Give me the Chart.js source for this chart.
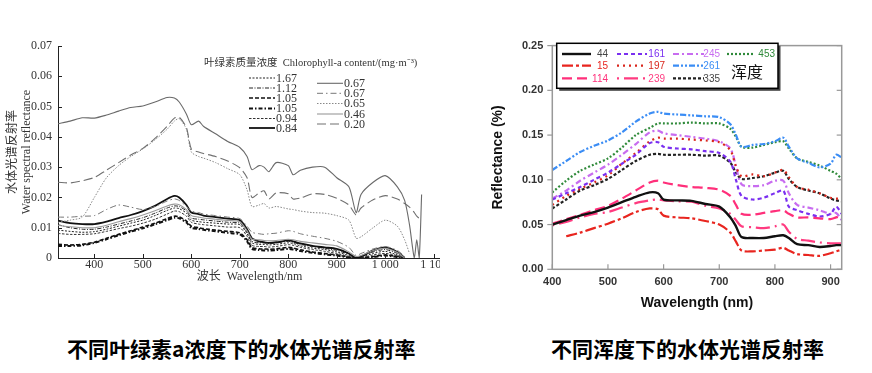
<!DOCTYPE html>
<html><head><meta charset="utf-8">
<script src="https://cdn.jsdelivr.net/npm/chart.js@4/dist/chart.umd.min.js"></script>
<style>
html,body{margin:0;padding:0;background:#fff;width:872px;height:373px;overflow:hidden;}
#lw{position:absolute;left:0;top:30px;width:440px;height:265px;overflow:hidden;}
#lc{position:absolute;left:0;top:0;}
#rc{position:absolute;left:480px;top:30px;}
.cap{position:absolute;top:334px;font-family:"Noto Sans CJK SC",sans-serif;font-weight:700;font-size:21px;line-height:28px;color:#000;white-space:nowrap;}
</style></head>
<body>
<div id="lw"><canvas id="lc" width="480" height="265"></canvas></div>
<canvas id="rc" width="392" height="290"></canvas>
<div class="cap" style="left:67px">不同叶绿素a浓度下的水体光谱反射率</div>
<div class="cap" style="left:551px">不同浑度下的水体光谱反射率</div>
<script>
// ---------------- LEFT CHART DATA ----------------
const leftWavelengths = [325,350,375,400,425,450,475,500,525,550,565,575,590,600,615,625,650,675,700,715,725,740,750,760,775,800,810,825,850,875,900,925,940,950,975,1000,1025,1040,1050,1060,1065,1070,1075];
const chl_167 = [0.0092,0.0088,0.0085,0.0087,0.0095,0.0105,0.0115,0.0125,0.0140,0.0157,0.0165,0.0163,0.0148,0.0125,0.0120,0.0118,0.0115,0.0112,0.0110,0.0080,0.0050,0.0045,0.0045,0.0043,0.0045,0.0050,0.0048,0.0040,0.0033,0.0028,0.0020,0.0008,0.0000,0.0002,0.0015,0.0022,0.0010,0.0000,null,null,null,null,null];
const chl_112 = [0.0110,0.0100,0.0095,0.0095,0.0102,0.0112,0.0122,0.0133,0.0148,0.0165,0.0172,0.0170,0.0155,0.0132,0.0128,0.0126,0.0122,0.0118,0.0115,0.0085,0.0055,0.0050,0.0050,0.0048,0.0050,0.0055,0.0052,0.0045,0.0038,0.0032,0.0025,0.0012,0.0000,0.0004,0.0020,0.0028,0.0015,0.0000,null,null,null,null,null];
const chl_105a = [0.0045,0.0043,0.0045,0.0052,0.0065,0.0078,0.0090,0.0102,0.0115,0.0130,0.0138,0.0136,0.0122,0.0105,0.0100,0.0097,0.0092,0.0088,0.0083,0.0060,0.0035,0.0030,0.0030,0.0029,0.0030,0.0035,0.0033,0.0027,0.0020,0.0015,0.0010,0.0003,0.0000,0.0000,0.0005,0.0010,0.0005,0.0000,null,null,null,null,null];
const chl_105b = [0.0040,0.0040,0.0042,0.0050,0.0062,0.0075,0.0087,0.0098,0.0111,0.0125,0.0133,0.0131,0.0117,0.0100,0.0096,0.0093,0.0088,0.0083,0.0078,0.0055,0.0030,0.0026,0.0025,0.0025,0.0026,0.0030,0.0028,0.0023,0.0017,0.0012,0.0008,0.0002,0.0000,0.0000,0.0003,0.0008,0.0003,0.0000,null,null,null,null,null];
const chl_094 = [0.0081,0.0078,0.0078,0.0080,0.0088,0.0097,0.0105,0.0115,0.0128,0.0145,0.0155,0.0153,0.0138,0.0118,0.0112,0.0110,0.0106,0.0102,0.0100,0.0072,0.0042,0.0038,0.0038,0.0036,0.0038,0.0044,0.0042,0.0035,0.0028,0.0022,0.0015,0.0005,0.0000,0.0000,0.0010,0.0015,0.0008,0.0000,null,null,null,null,null];
const chl_084 = [0.0123,0.0115,0.0112,0.0112,0.0120,0.0132,0.0142,0.0155,0.0172,0.0195,0.0205,0.0200,0.0175,0.0150,0.0145,0.0140,0.0135,0.0130,0.0125,0.0095,0.0065,0.0055,0.0052,0.0050,0.0052,0.0058,0.0055,0.0048,0.0040,0.0035,0.0030,0.0015,0.0000,0.0005,0.0025,0.0035,0.0020,0.0000,null,null,null,null,null];
const chl_067a = [0.0443,0.0452,0.0463,0.0462,0.0472,0.0485,0.0497,0.0502,0.0515,0.0530,0.0528,0.0515,0.0475,0.0440,0.0452,0.0435,0.0410,0.0385,0.0365,0.0335,0.0292,0.0305,0.0300,0.0285,0.0315,0.0305,0.0275,0.0290,0.0300,0.0300,0.0265,0.0235,0.0150,0.0210,0.0250,0.0272,0.0235,0.0190,0.0110,0.0000,0.0060,0.0000,0.0210];
const chl_067b = [0.0135,0.0135,0.0138,0.0140,0.0160,0.0175,0.0168,0.0160,0.0170,0.0188,0.0195,0.0190,0.0170,0.0155,0.0150,0.0145,0.0140,0.0135,0.0130,0.0105,0.0085,0.0080,0.0078,0.0080,0.0082,0.0090,0.0088,0.0080,0.0072,0.0065,0.0055,0.0035,0.0008,0.0015,0.0030,0.0038,0.0025,0.0005,null,null,null,null,null];
const chl_065 = [0.0118,0.0125,0.0135,0.0200,0.0265,0.0305,0.0335,0.0360,0.0390,0.0425,0.0452,0.0460,0.0425,0.0350,0.0335,0.0330,0.0315,0.0295,0.0275,0.0225,0.0170,0.0175,0.0180,0.0165,0.0170,0.0162,0.0160,0.0155,0.0150,0.0148,0.0140,0.0125,0.0065,0.0070,0.0100,0.0125,0.0105,0.0060,0.0015,null,null,null,null];
const chl_046 = [0.0108,0.0103,0.0100,0.0100,0.0108,0.0120,0.0130,0.0142,0.0156,0.0172,0.0178,0.0176,0.0160,0.0140,0.0135,0.0132,0.0128,0.0124,0.0120,0.0090,0.0062,0.0060,0.0058,0.0057,0.0058,0.0062,0.0060,0.0055,0.0050,0.0045,0.0040,0.0020,0.0005,0.0008,0.0025,0.0032,0.0018,0.0000,null,null,null,null,null];
const chl_020 = [0.0250,0.0248,0.0255,0.0266,0.0290,0.0315,0.0340,0.0362,0.0395,0.0435,0.0462,0.0465,0.0430,0.0360,0.0350,0.0345,0.0335,0.0320,0.0298,0.0265,0.0200,0.0215,0.0222,0.0195,0.0215,0.0212,0.0195,0.0198,0.0212,0.0210,0.0197,0.0175,0.0142,0.0165,0.0192,0.0206,0.0195,0.0180,0.0168,0.0150,0.0138,0.0132,0.0136];
const leftSeries = [chl_167, chl_112, chl_105a, chl_105b, chl_094, chl_084, chl_067a, chl_067b, chl_065, chl_046, chl_020];
const leftLabels = ['1.67','1.12','1.05','1.05','0.94','0.84','0.67','0.67','0.65','0.46','0.20'];
const leftYTicks = [0,0.01,0.02,0.03,0.04,0.05,0.06,0.07];
const leftXTicks = [400,500,600,700,800,900,1000,1100];

// ---------------- RIGHT CHART DATA ----------------
const rightWavelengths = [400,425,450,475,500,525,550,575,590,600,625,650,675,700,720,730,740,760,780,800,815,825,840,860,880,900,910,920];
const turb_44  = [0.050,0.055,0.060,0.064,0.069,0.075,0.081,0.086,0.085,0.078,0.077,0.0765,0.073,0.070,0.058,0.048,0.036,0.035,0.035,0.037,0.038,0.035,0.028,0.027,0.025,0.026,0.027,0.027];
const turb_15  = [null,0.037,0.041,0.046,0.051,0.057,0.064,0.068,0.067,0.060,0.058,0.057,0.054,0.050,0.041,0.031,0.021,0.020,0.021,0.022,0.024,0.021,0.017,0.016,0.015,0.018,0.020,0.022];
const turb_114 = [0.051,0.056,0.061,0.066,0.071,0.079,0.088,0.097,0.099,0.097,0.094,0.092,0.091,0.089,0.082,0.072,0.062,0.061,0.063,0.065,0.066,0.062,0.058,0.058,0.057,0.056,0.058,0.060];
const turb_161 = [0.078,0.085,0.092,0.100,0.108,0.118,0.128,0.141,0.142,0.137,0.135,0.134,0.132,0.130,0.120,0.100,0.082,0.078,0.080,0.085,0.088,0.070,0.066,0.062,0.059,0.062,0.070,0.062];
const turb_197 = [0.072,0.082,0.090,0.097,0.105,0.118,0.130,0.143,0.147,0.146,0.146,0.145,0.144,0.142,0.133,0.115,0.104,0.106,0.104,0.108,0.111,0.103,0.092,0.089,0.085,0.080,0.079,0.079];
const turb_239 = [0.049,0.053,0.058,0.062,0.064,0.069,0.074,0.077,0.078,0.077,0.076,0.0755,0.071,0.068,0.062,0.055,0.048,0.047,0.046,0.048,0.050,0.042,0.034,0.032,0.030,0.029,0.029,0.029];
const turb_245 = [0.079,0.088,0.099,0.108,0.117,0.128,0.140,0.153,0.155,0.152,0.150,0.148,0.146,0.143,0.135,0.115,0.095,0.093,0.094,0.099,0.099,0.085,0.072,0.069,0.066,0.062,0.063,0.055];
const turb_261 = [0.111,0.121,0.131,0.138,0.144,0.153,0.165,0.174,0.176,0.174,0.173,0.172,0.171,0.170,0.162,0.150,0.137,0.139,0.140,0.143,0.147,0.137,0.124,0.119,0.114,0.118,0.128,0.125];
const turb_335 = [0.068,0.078,0.088,0.094,0.101,0.111,0.121,0.128,0.129,0.128,0.128,0.128,0.127,0.127,0.119,0.108,0.101,0.102,0.104,0.108,0.110,0.101,0.092,0.088,0.085,0.079,0.077,0.076];
const turb_453 = [0.086,0.099,0.110,0.117,0.124,0.136,0.150,0.158,0.163,0.163,0.163,0.164,0.163,0.163,0.157,0.148,0.137,0.136,0.139,0.142,0.143,0.135,0.124,0.120,0.116,0.110,0.107,0.101];
const rightSeries = [turb_44, turb_15, turb_114, turb_161, turb_197, turb_239, turb_245, turb_261, turb_335, turb_453];
const rightLabels = ['44','15','114','161','197','239','245','261','335','453'];
const rightYTicks = [0,0.05,0.10,0.15,0.20,0.25];
const rightXTicks = [400,500,600,700,800,900];

// ---------------- STYLES ----------------
const leftStyles = [
  {c:'#222', w:1,   d:[2,1.5]},
  {c:'#222', w:1,   d:[4,1.5,1,1.5]},
  {c:'#111', w:1.6, d:[4,2]},
  {c:'#111', w:2,   d:[4,2,1.5,2]},
  {c:'#333', w:1,   d:[2.5,1.5]},
  {c:'#111', w:1.8, d:[]},
  {c:'#6a6a6a', w:1.1, d:[]},
  {c:'#777', w:1,   d:[6,3,1.5,3]},
  {c:'#888', w:1,   d:[1.5,1.5]},
  {c:'#9a9a9a', w:1.1, d:[]},
  {c:'#707070', w:1.1, d:[9,4]}
];
const rightStyles = [
  {c:'#111111', t:'#444', w:2.4, d:[]},
  {c:'#e8251f', t:'#e8251f', w:2.2, d:[11,3,3,3]},
  {c:'#ff2f7a', t:'#ff2f7a', w:2.2, d:[10,5]},
  {c:'#7a2ff0', t:'#7a2ff0', w:2.2, d:[4,3]},
  {c:'#d9261c', t:'#d9261c', w:2.2, d:[2,4]},
  {c:'#ff3b80', t:'#ff3b80', w:2.2, d:[2,5,14,5]},
  {c:'#c86cf0', t:'#c86cf0', w:2.2, d:[6,3,2,3]},
  {c:'#3b8df5', t:'#3b8df5', w:2.2, d:[6,2,2,2,2,2]},
  {c:'#222222', t:'#444', w:2.2, d:[3,2]},
  {c:'#2f8a3a', t:'#2f8a3a', w:2.2, d:[2,2]}
];

const serif = '"Liberation Serif","Noto Sans CJK SC",serif';
const sans = '"Liberation Sans",Arial,sans-serif';

function pts(xs, ys){ return xs.map((x,i)=>({x:x, y:ys[i]})); }

// ---------------- LEFT DECOR PLUGIN ----------------
const leftLegendLayout = [
  {i:0, x:249, y:48}, {i:1, x:249, y:58}, {i:2, x:249, y:68}, {i:3, x:249, y:78.5}, {i:4, x:249, y:88.5}, {i:5, x:249, y:98},
  {i:6, x:317, y:53.3}, {i:7, x:317, y:63.3}, {i:8, x:317, y:73.5}, {i:9, x:317, y:84}, {i:10, x:317, y:94}
];
const leftDecor = {
  id:'leftDecor',
  afterDraw(chart){
    const {ctx, chartArea:a, scales:{x, y}} = chart;
    ctx.save();
    ctx.strokeStyle = '#222'; ctx.lineWidth = 1; ctx.setLineDash([]);
    leftXTicks.forEach(v=>{ const px = Math.round(x.getPixelForValue(v))+0.5; ctx.beginPath(); ctx.moveTo(px, a.bottom); ctx.lineTo(px, a.bottom-4); ctx.stroke(); });
    leftYTicks.forEach(v=>{ if(v===0) return; const py = Math.round(y.getPixelForValue(v))+0.5; ctx.beginPath(); ctx.moveTo(a.left, py); ctx.lineTo(a.left+4, py); ctx.stroke(); });
    ctx.fillStyle = '#333'; ctx.textBaseline = 'middle'; ctx.textAlign = 'left';
    ctx.font = '10.5px ' + serif;
    ctx.fillText('叶绿素质量浓度  Chlorophyll-a content/(mg·m⁻³)', 204, 33);
    ctx.font = '12px ' + serif;
    leftLegendLayout.forEach(it=>{
      const s = leftStyles[it.i];
      ctx.strokeStyle = s.c; ctx.lineWidth = s.w; ctx.setLineDash(s.d);
      ctx.beginPath(); ctx.moveTo(it.x, it.y); ctx.lineTo(it.x+26, it.y); ctx.stroke();
      ctx.setLineDash([]);
      ctx.fillStyle = '#333';
      ctx.fillText(leftLabels[it.i], it.x+27, it.y+0.5);
    });
    ctx.restore();
  }
};

new Chart(document.getElementById('lc'), {
  type:'line',
  data:{ datasets: leftSeries.map((s,i)=>({
    label: leftLabels[i], data: pts(leftWavelengths, s),
    borderColor: leftStyles[i].c, borderWidth: leftStyles[i].w, borderDash: leftStyles[i].d,
    pointRadius:0, tension:0.25, spanGaps:false, fill:false
  })).reverse() },
  options:{
    responsive:false, animation:false, devicePixelRatio:1,
    layout:{padding:{left:0, right:39, top:16, bottom:0}},
    plugins:{legend:{display:false}, tooltip:{enabled:false}},
    scales:{
      x:{ type:'linear', min:325, max:1115,
        afterBuildTicks(s){ s.ticks = leftXTicks.map(v=>({value:v})); },
        afterFit(s){ s.height = 37; },
        grid:{display:false, drawTicks:false},
        border:{display:true, color:'#222', width:1},
        ticks:{ padding:0, color:'#333', font:{family:serif, size:12}, maxRotation:0, autoSkip:false,
          callback(v){ return v>=1000 ? '1 ' + String(v).slice(1) : String(v); } },
        title:{ display:true, text:'波长  Wavelength/nm', color:'#333', font:{family:serif, size:12}, padding:{top:0, bottom:11} }
      },
      y:{ min:0, max:0.07,
        afterBuildTicks(s){ s.ticks = leftYTicks.map(v=>({value:v})); },
        afterFit(s){ s.width = 58; },
        grid:{display:false, drawTicks:false},
        border:{display:true, color:'#222', width:1},
        ticks:{ padding:6, color:'#333', font:{family:serif, size:12},
          callback(v){ return v===0 ? '0' : v.toFixed(2); } },
        title:{ display:true, text:['水体光谱反射率','Water spectral reflectance'], color:'#333',
          font:{family:serif, size:12, lineHeight:'14px'}, padding:{top:6, bottom:0} }
      }
    }
  },
  plugins:[leftDecor]
});

// ---------------- RIGHT DECOR PLUGIN ----------------
const rightLegendLayout = [
  {i:0, x1:82, x2:111, tx:128, y:24}, {i:1, x1:82, x2:111, tx:128, y:35.7}, {i:2, x1:82, x2:111, tx:128, y:48.3},
  {i:3, x1:137, x2:167, tx:185, y:24}, {i:4, x1:137, x2:167, tx:185, y:35.7}, {i:5, x1:137, x2:167, tx:185, y:48.3},
  {i:6, x1:193, x2:224, tx:240, y:24}, {i:7, x1:193, x2:224, tx:240, y:35.7}, {i:8, x1:193, x2:224, tx:240, y:48.3},
  {i:9, x1:247, x2:274, tx:295, y:24}
];
const rightDecor = {
  id:'rightDecor',
  afterDraw(chart){
    const {ctx, chartArea:a, scales:{x, y}} = chart;
    ctx.save();
    ctx.strokeStyle = '#999'; ctx.lineWidth = 1.5; ctx.setLineDash([]);
    ctx.strokeRect(a.left, a.top, a.right-a.left, a.bottom-a.top);
    ctx.lineWidth = 1.2;
    rightYTicks.forEach(v=>{ const py = y.getPixelForValue(v);
      ctx.beginPath(); ctx.moveTo(a.left-5, py); ctx.lineTo(a.left, py); ctx.stroke();
      ctx.beginPath(); ctx.moveTo(a.right, py); ctx.lineTo(a.right-5, py); ctx.stroke(); });
    rightXTicks.forEach(v=>{ const px = x.getPixelForValue(v);
      ctx.beginPath(); ctx.moveTo(px, a.bottom); ctx.lineTo(px, a.bottom-5); ctx.stroke(); });
    // legend box
    const bx = 76.7, by = 13.3, bw = 221.3, bh = 45;
    ctx.fillStyle = '#444'; ctx.fillRect(bx+2.5, by+2.5, bw, bh);
    ctx.fillStyle = '#fff'; ctx.fillRect(bx, by, bw, bh);
    ctx.strokeStyle = '#000'; ctx.lineWidth = 1.5; ctx.strokeRect(bx, by, bw, bh);
    ctx.font = '10px ' + sans; ctx.textBaseline = 'middle'; ctx.textAlign = 'right';
    rightLegendLayout.forEach(it=>{
      const s = rightStyles[it.i];
      ctx.strokeStyle = s.c; ctx.lineWidth = s.w; ctx.setLineDash(s.d);
      ctx.beginPath(); ctx.moveTo(it.x1, it.y); ctx.lineTo(it.x2, it.y); ctx.stroke();
      ctx.setLineDash([]);
      ctx.fillStyle = s.t; ctx.fillText(rightLabels[it.i], it.tx, it.y+0.5);
    });
    ctx.textAlign = 'center'; ctx.fillStyle = '#111';
    ctx.font = '16px "Noto Sans CJK SC",sans-serif';
    ctx.fillText('浑度', 267, 41.7);
    ctx.restore();
  }
};

new Chart(document.getElementById('rc'), {
  type:'line',
  data:{ datasets: rightSeries.map((s,i)=>({
    label: rightLabels[i], data: pts(rightWavelengths, s),
    borderColor: rightStyles[i].c, borderWidth: rightStyles[i].w, borderDash: rightStyles[i].d,
    pointRadius:0, tension:0.3, spanGaps:false, fill:false
  })) },
  options:{
    responsive:false, animation:false, devicePixelRatio:1,
    layout:{padding:{left:0, right:30.3, top:7.3, bottom:0}},
    plugins:{legend:{display:false}, tooltip:{enabled:false}},
    scales:{
      x:{ type:'linear', min:400, max:920,
        afterBuildTicks(s){ s.ticks = rightXTicks.map(v=>({value:v})); },
        afterFit(s){ s.height = 50.7; },
        grid:{display:false, drawTicks:false},
        border:{display:false},
        ticks:{ padding:6, color:'#333', font:{family:sans, size:11, weight:'bold'}, maxRotation:0, autoSkip:false },
        title:{ display:true, text:'Wavelength (nm)', color:'#111', font:{family:sans, size:14, weight:'bold'}, padding:{top:0, bottom:8.6} }
      },
      y:{ min:0, max:0.25,
        afterBuildTicks(s){ s.ticks = rightYTicks.map(v=>({value:v})); },
        afterFit(s){ s.width = 72.3; },
        grid:{display:false, drawTicks:false},
        border:{display:false},
        ticks:{ padding:9, color:'#333', font:{family:sans, size:11, weight:'bold'},
          callback(v){ return v.toFixed(2); } },
        title:{ display:true, text:'Reflectance (%)', color:'#111', font:{family:sans, size:14, weight:'bold'}, padding:{top:9.6, bottom:0} }
      }
    }
  },
  plugins:[rightDecor]
});
</script>
</body></html>
